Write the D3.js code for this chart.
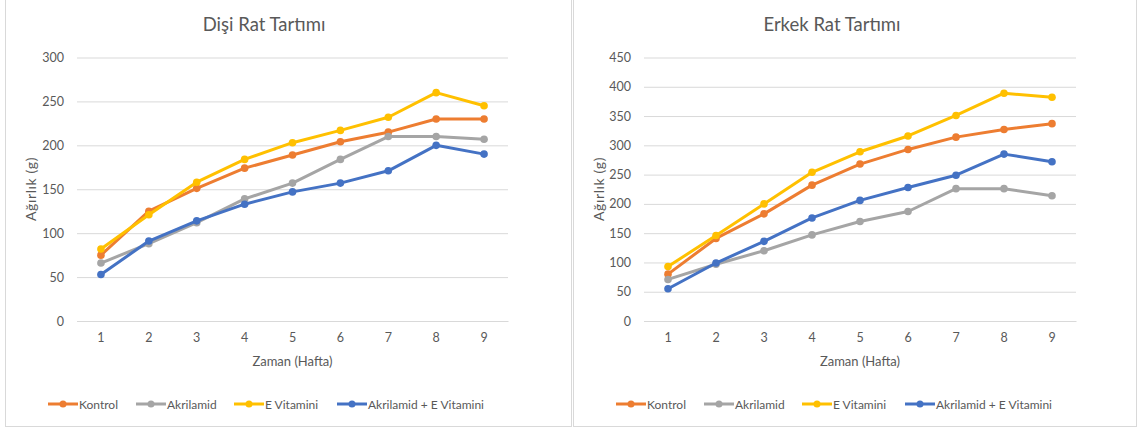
<!DOCTYPE html>
<html>
<head>
<meta charset="utf-8">
<script src="https://cdn.jsdelivr.net/npm/d3@7"></script>
<style>
  html, body { margin: 0; padding: 0; background: #fff; }
  svg { display: block; font-family: Lato, "Open Sans", sans-serif; }
</style>
</head>
<body>
<svg id="chart" width="1140" height="432"></svg>
<script>
// Weekly body weight (g) per group
const weeks = ["1", "2", "3", "4", "5", "6", "7", "8", "9"];
const seriesNames = ["Kontrol", "Akrilamid", "E Vitamini", "Akrilamid + E Vitamini"];
const seriesColors = ["#ED7D31", "#A5A5A5", "#FFC000", "#4472C4"];

// Female rats
const disiKontrol   = [75, 125, 151, 174, 189, 204, 215, 230, 230];
const disiAkrilamid = [66, 88, 112, 139, 157, 184, 210, 210, 207];
const disiEVitamini = [82, 121, 158, 184, 203, 217, 232, 260, 245];
const disiAkrE      = [53, 91, 114, 133, 147, 157, 171, 200, 190];
const disiTicks     = [0, 50, 100, 150, 200, 250, 300];

// Male rats
const erkekKontrol   = [80, 141, 183, 232, 268, 293, 314, 327, 337];
const erkekAkrilamid = [71, 97, 120, 147, 170, 187, 226, 226, 214];
const erkekEVitamini = [93, 146, 200, 254, 289, 316, 351, 389, 382];
const erkekAkrE      = [55, 99, 136, 176, 206, 228, 249, 285, 272];
const erkekTicks     = [0, 50, 100, 150, 200, 250, 300, 350, 400, 450];

const svg = d3.select("#chart");
const textColor = "#595959";

// Panel frames
svg.append("rect").attr("x", 5.5).attr("y", -1).attr("width", 566).attr("height", 427.5)
  .attr("fill", "none").attr("stroke", "#D9D9D9").attr("stroke-width", 1);
svg.append("rect").attr("x", 573.5).attr("y", -1).attr("width", 563).attr("height", 427.5)
  .attr("fill", "none").attr("stroke", "#D9D9D9").attr("stroke-width", 1);

function drawPanel(cfg) {
  const g = svg.append("g");
  const x = d3.scaleBand().domain(weeks).range([cfg.left, cfg.right]);
  const y = d3.scaleLinear().domain([0, d3.max(cfg.ticks)]).range([321, 57.5]);

  // Title
  g.append("text").attr("x", cfg.titleX).attr("y", 31)
    .attr("text-anchor", "middle").attr("fill", textColor)
    .style("font-size", "18.5px").text(cfg.title);

  // Horizontal gridlines and y tick labels
  const yAxis = d3.axisLeft(y).tickValues(cfg.ticks).tickSize(-(cfg.right - cfg.left)).tickPadding(13);
  const ya = g.append("g").attr("transform", `translate(${cfg.left},0)`).call(yAxis);
  ya.select(".domain").remove();
  ya.selectAll(".tick line").attr("stroke", "#D9D9D9").attr("stroke-width", 1);
  ya.selectAll(".tick text").attr("fill", textColor).style("font-size", "12.5px")
    .style("font-family", "Lato, sans-serif");

  // X tick labels
  const xAxis = d3.axisBottom(x).tickSize(0).tickPadding(12);
  const xa = g.append("g").attr("transform", "translate(0,321)").call(xAxis);
  xa.select(".domain").attr("stroke", "#D9D9D9");
  xa.selectAll(".tick text").attr("fill", textColor).style("font-size", "12.5px")
    .style("font-family", "Lato, sans-serif");

  // Axis titles
  g.append("text").attr("x", (cfg.left + cfg.right) / 2).attr("y", 366)
    .attr("text-anchor", "middle").attr("fill", textColor)
    .style("font-size", "13px").text("Zaman (Hafta)");
  g.append("text")
    .attr("transform", `translate(${cfg.yTitleX},189) rotate(-90)`)
    .attr("text-anchor", "middle").attr("fill", textColor)
    .style("font-size", "14px").style("letter-spacing", "0.6px").text("Ağırlık (g)");

  // Series lines with markers
  const line = d3.line().x((d, i) => x(weeks[i]) + x.bandwidth() / 2).y(d => y(d));
  cfg.series.forEach((vals, si) => {
    g.append("path").datum(vals).attr("d", line)
      .attr("fill", "none").attr("stroke", seriesColors[si])
      .attr("stroke-width", 3).attr("stroke-linejoin", "round").attr("stroke-linecap", "round");
    g.selectAll(null).data(vals).enter().append("circle")
      .attr("cx", (d, i) => x(weeks[i]) + x.bandwidth() / 2)
      .attr("cy", d => y(d)).attr("r", 3.8).attr("fill", seriesColors[si]);
  });

  // Legend
  const lg = g.append("g").attr("transform", "translate(0,404)");
  seriesNames.forEach((name, si) => {
    const lx = cfg.legendX[si];
    lg.append("line").attr("x1", lx).attr("x2", lx + 30).attr("y1", 0).attr("y2", 0)
      .attr("stroke", seriesColors[si]).attr("stroke-width", 3);
    lg.append("circle").attr("cx", lx + 15).attr("cy", 0).attr("r", 3.5).attr("fill", seriesColors[si]);
    lg.append("text").attr("x", lx + 31).attr("y", 4.5).attr("fill", textColor)
      .style("font-size", "12px").text(name);
  });
}

drawPanel({
  title: "Dişi Rat Tartımı", titleX: 264,
  left: 77, right: 508, yTitleX: 36,
  ticks: disiTicks,
  series: [disiKontrol, disiAkrilamid, disiEVitamini, disiAkrE],
  legendX: [48, 136, 234, 337]
});

drawPanel({
  title: "Erkek Rat Tartımı", titleX: 832,
  left: 644, right: 1076, yTitleX: 604,
  ticks: erkekTicks,
  series: [erkekKontrol, erkekAkrilamid, erkekEVitamini, erkekAkrE],
  legendX: [616, 704, 802, 905]
});
</script>
</body>
</html>
